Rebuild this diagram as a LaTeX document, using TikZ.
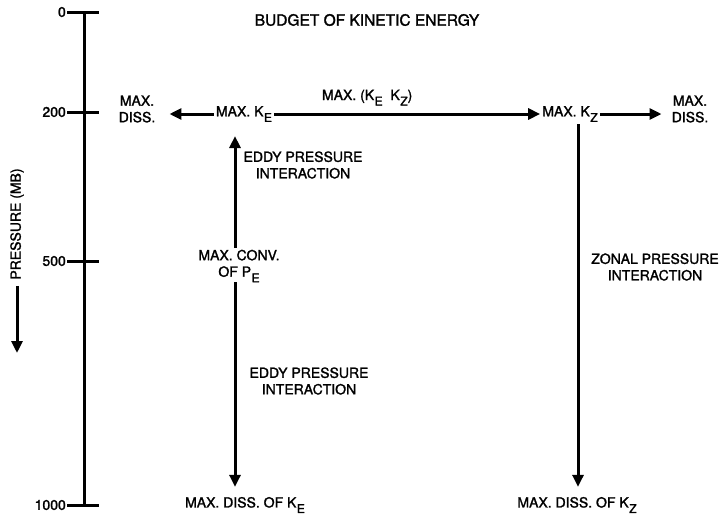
\documentclass[tikz,border=0pt]{standalone}
\usepackage{fontspec}
\setmainfont{TeX Gyre Heros}[BoldFont=TeX Gyre Heros, BoldFeatures={FakeBold=1.6}]
\usepackage{tikz}
\usetikzlibrary{arrows.meta, positioning, calc}
\newcommand{\subs}[1]{\kern0.5pt\raisebox{-0.75ex}{\fontsize{12}{12}\selectfont #1}}

\begin{document}
\begin{tikzpicture}[
  x=1pt, y=-1pt,
  every node/.style={font=\fontsize{14}{16.5}\selectfont\bfseries, inner sep=2pt},
  txt/.style={align=center},
  ticklab/.style={anchor=east, inner sep=1pt},
  axis/.style={line width=3pt},
  arrow/.style={line width=3pt, -{Triangle[length=12pt, width=11pt]}},
  tip/.style={line width=3pt, -{Triangle[length=12pt, width=11pt]}}
]
\useasboundingbox (0,0) rectangle (719,520);

  % Pressure axis
  \draw[axis] (84,12) -- (84,505);
  \foreach \p/\y in {0/12, 200/112, 500/261, 1000/505} {
    \node[ticklab] (t\p) at (67,\y) {\p};
    \draw[axis] (t\p.east) -- (99,\y);
  }
  \node[rotate=90] (plab) at (17,224) {PRESSURE (MB)};
  \coordinate (pend) at (17,353);
  \draw[arrow] (plab.west) ++(0,4) -- (pend);

  % Title
  \node[font=\fontsize{15.5}{18}\selectfont\bfseries] (title) at (367,20) {BUDGET OF KINETIC ENERGY};

  % Upper level
  \node[txt] (dissl) at (137,109) {MAX.\\DISS.};
  \node (ke) at (244,114) {MAX. K\subs{E}};
  \node (kz) at (570,114) {MAX. K\subs{Z}};
  \node[txt] (dissr) at (690,109) {MAX.\\DISS.};

  % Middle and lower levels
  \node[txt] (conv) at (239,266) {MAX. CONV.\\OF P\subs{E}};
  \node (disske) at (245,505) {MAX. DISS. OF K\subs{E}};
  \node (disskz) at (577,505) {MAX. DISS. OF K\subs{Z}};

  \coordinate (keaxis) at (235,0);
  \coordinate (kzaxis) at (578,0);

  % Horizontal arrows
  \draw[arrow] (ke.west) -- ($(dissl.east |- ke.west)+(12,0)$);
  \draw[arrow] (ke.east) -- (kz.west)
    node[midway, above=5pt, xshift=-40pt] (kekz) {MAX. (K\subs{E}\ \ K\subs{Z})};
  \draw[arrow] (kz.east) -- ($(dissr.west |- kz.east)+(-8,0)$);

  % Vertical arrows
  \draw[tip] (conv.north -| keaxis) -- ($(ke.south -| keaxis)+(0,12)$);
  \draw[tip] ($(conv.south -| keaxis)+(0,-2)$) -- ($(disske.north -| keaxis)+(0,-8)$);
  \draw[tip] (kz.south -| kzaxis) -- ($(disskz.north -| kzaxis)+(0,-8)$);

  % Interaction labels
  \node[txt] (eddyup) at (303,165) {EDDY PRESSURE\\INTERACTION};
  \node[txt] (eddylo) at (309,381) {EDDY PRESSURE\\INTERACTION};
  \node[txt] (zonal) at (655,267) {ZONAL PRESSURE\\INTERACTION};

\end{tikzpicture}
\end{document}
